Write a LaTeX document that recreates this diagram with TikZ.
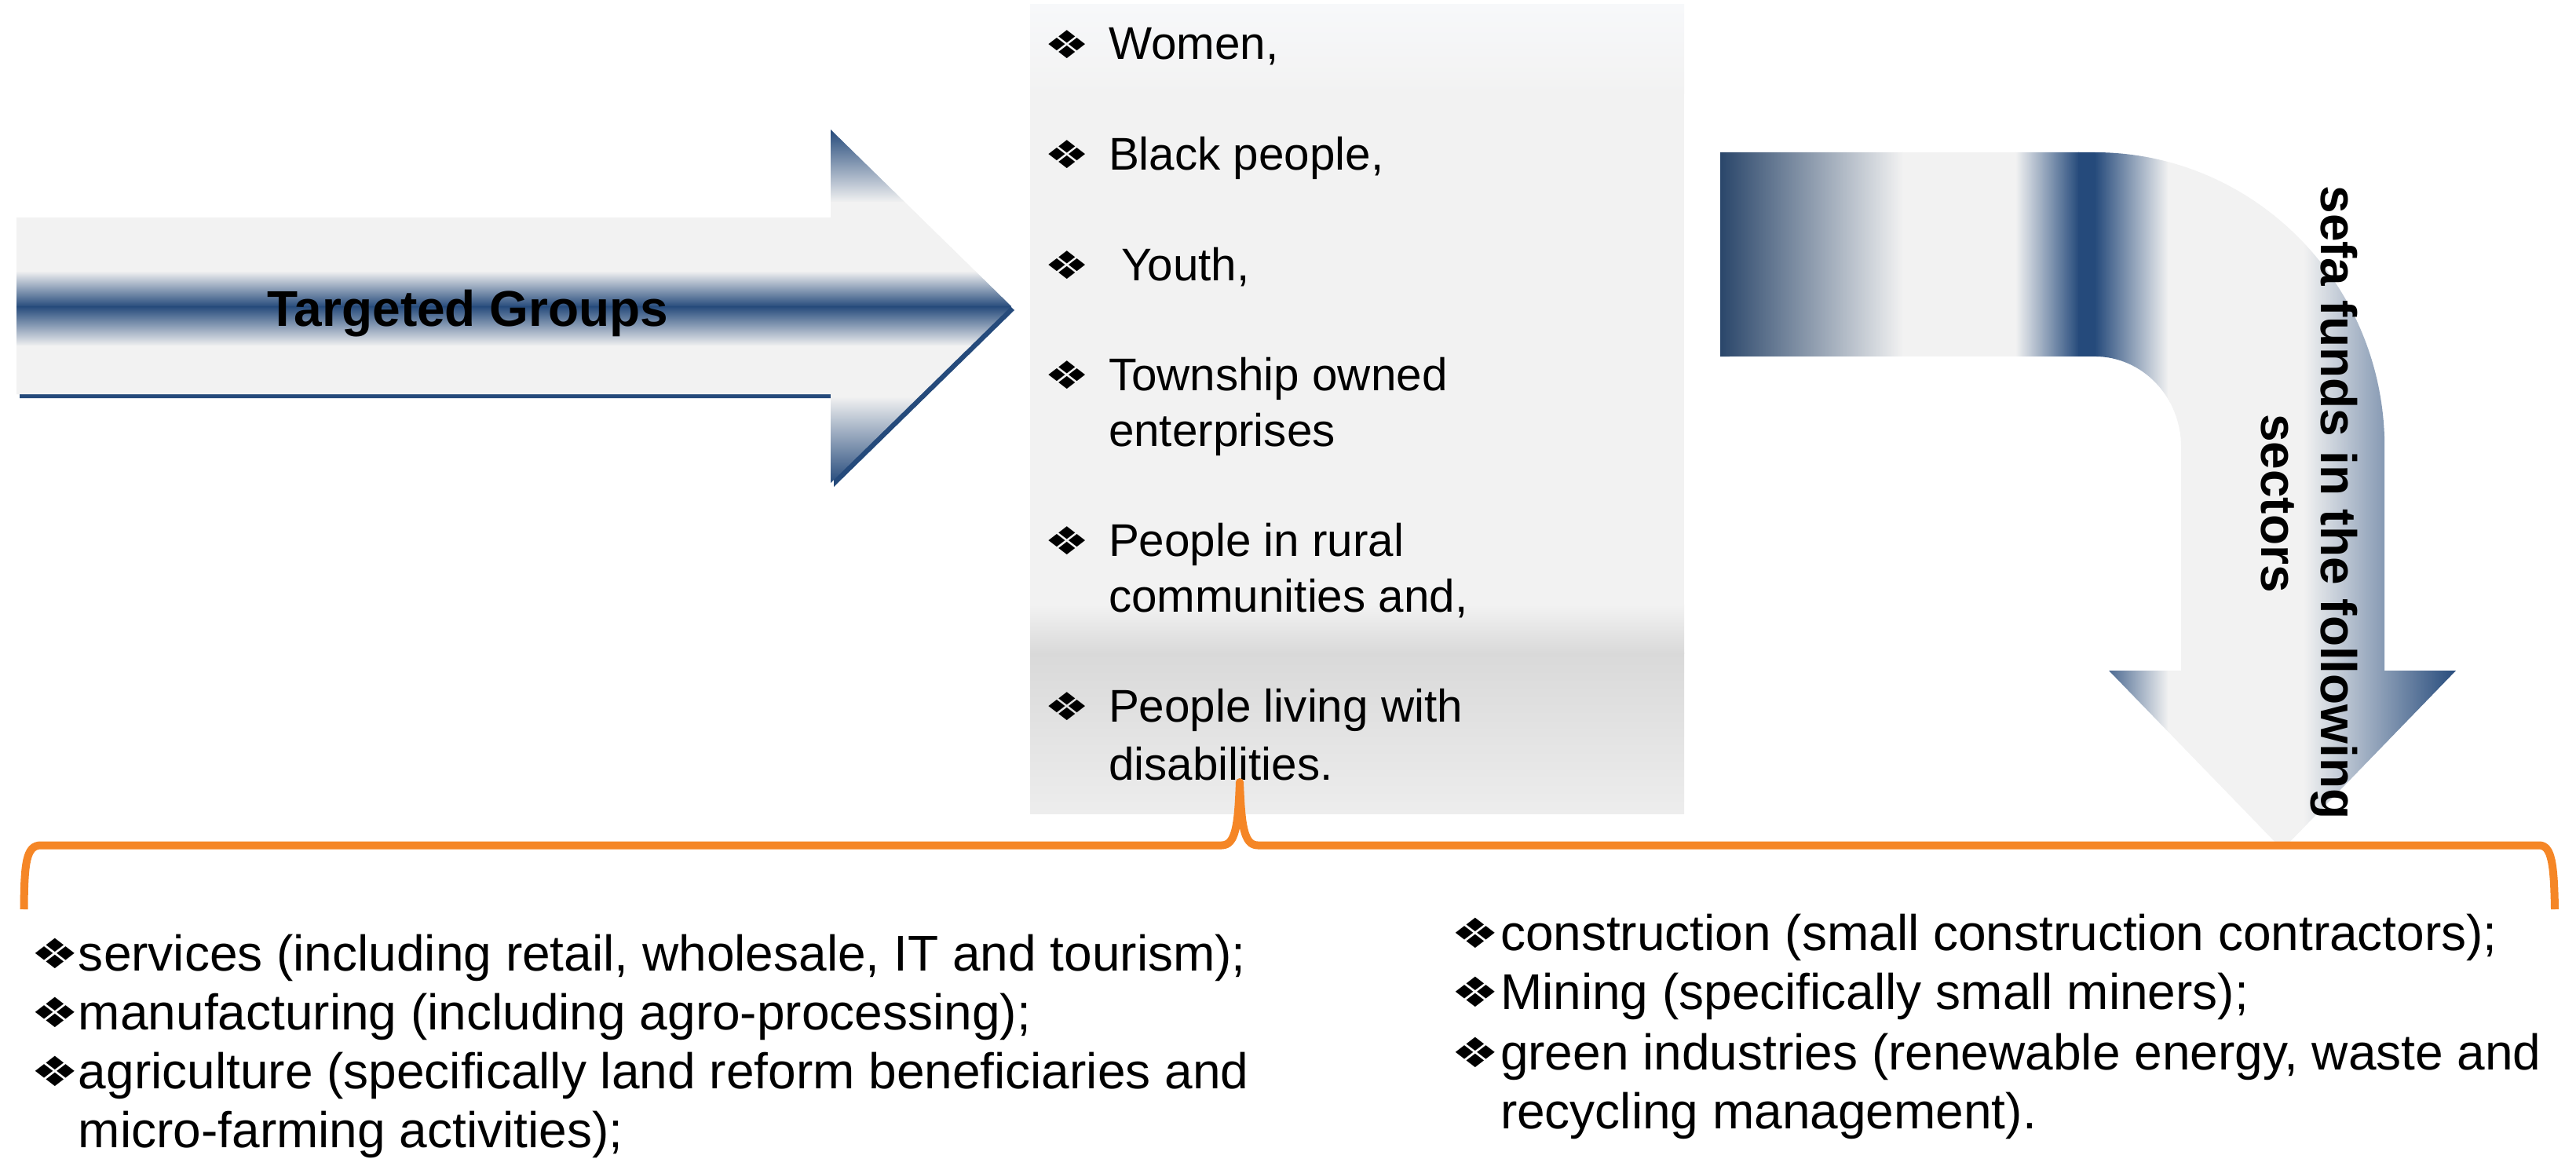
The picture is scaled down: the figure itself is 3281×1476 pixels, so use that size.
\documentclass[tikz,border=0pt]{standalone}
\usepackage{fontspec}
\usepackage{graphicx}
\setmainfont{Liberation Sans}
\newfontfamily\dingfont{DejaVu Sans}
\usetikzlibrary{calc}

\definecolor{sefablue}{RGB}{37,74,123}
\definecolor{sefadark}{RGB}{42,70,106}
\definecolor{panel}{RGB}{242,242,242}
\definecolor{paneltop}{RGB}{247,248,250}
\definecolor{panelband}{RGB}{217,217,217}
\definecolor{panellow}{RGB}{237,237,237}
\definecolor{bracecol}{RGB}{245,134,38}

\tikzset{
  sector/.style={inner sep=0pt, outer sep=0pt, anchor=base west,
    font=\fontsize{18.2pt}{21pt}\selectfont},
  group/.style={inner sep=0pt, outer sep=0pt, anchor=base west,
    font=\fontsize{16.6pt}{20pt}\selectfont},
  bul/.style={inner sep=0pt, outer sep=0pt, anchor=center,
    font=\dingfont\fontsize{14pt}{14pt}\selectfont},
  bigbul/.style={bul, font=\dingfont\fontsize{15pt}{15pt}\selectfont},
  headline/.style={inner sep=0pt, outer sep=0pt, anchor=base,
    font=\bfseries\fontsize{18.2pt}{21pt}\selectfont},
}
\newcommand{\dia}{\scalebox{1.3}[1]{❖}}

\begin{document}
\begin{tikzpicture}[x=0.01cm, y=0.01cm]
\useasboundingbox (0,0) rectangle (3281,-1476);

% ---------- left arrow: shadow ----------
\fill[sefablue] (25,-282) -- (1062,-282) -- (1062,-170) -- (1292,-395)
  -- (1062,-620) -- (1062,-507) -- (25,-507) -- cycle;

% ---------- left arrow: banded fill ----------
\begin{scope}
  \clip (21,-277) -- (1058,-277) -- (1058,-165) -- (1288,-390)
    -- (1058,-615) -- (1058,-502) -- (21,-502) -- cycle;
  \shade[top color=sefablue, bottom color=panel] (0,-165) rectangle (1300,-258);
  \fill[panel] (0,-257) rectangle (1300,-346);
  \shade[top color=panel, bottom color=sefablue] (0,-345) rectangle (1300,-391);
  \shade[top color=sefablue, bottom color=panel] (0,-390) rectangle (1300,-441);
  \fill[panel] (0,-440) rectangle (1300,-506);
  \shade[top color=panel, bottom color=sefablue] (0,-505) rectangle (1300,-616);
\end{scope}
\node[headline] (targeted) at (596,-415) {Targeted Groups};

% ---------- central panel ----------
\fill[panel] (1312,-6) rectangle (2145,-1036);
\shade[top color=paneltop, bottom color=panel] (1312,-6) rectangle (2145,-120);
\shade[top color=panel, bottom color=panelband] (1312,-770) rectangle (2145,-832);
\shade[top color=panelband, bottom color=panellow] (1312,-831) rectangle (2145,-1036);

\node[bul] (b1) at (1359,-57) {\dia};
\node[group] (g1) at (1412,-76) {Women,};
\node[bul] (b2) at (1359,-197) {\dia};
\node[group] (g2) at (1412,-216) {Black people,};
\node[bul] (b3) at (1359,-338) {\dia};
\node[group] (g3) at (1428,-357) {Youth,};
\node[bul] (b4) at (1359,-478) {\dia};
\node[group] (g4) at (1412,-497) {Township owned};
\node[group] (g4b) at (1412,-568) {enterprises};
\node[bul] (b5) at (1359,-689) {\dia};
\node[group] (g5) at (1412,-708) {People in rural};
\node[group] (g5b) at (1412,-779) {communities and,};
\node[bul] (b6) at (1359,-900) {\dia};
\node[group] (g6) at (1412,-919) {People living with};
\node[group] (g6b) at (1412,-993) {disabilities.};

% ---------- bent arrow ----------
\begin{scope}
  \clip (2191,-194) -- (2668,-194)
    arc[start angle=90, end angle=0, x radius=3.69cm, y radius=3.75cm]
    -- (3037,-854) -- (3128,-854) -- (2907,-1082) -- (2686,-854) -- (2778,-854)
    -- (2778,-569)
    arc[start angle=0, end angle=90, x radius=1.10cm, y radius=1.15cm]
    -- (2191,-454) -- cycle;
  \shade[left color=sefadark, right color=panel] (2191,-180) rectangle (2424,-1100);
  \fill[panel] (2423,-180) rectangle (2568,-1100);
  \shade[left color=panel, right color=sefablue] (2567,-180) rectangle (2648,-1100);
  \fill[sefablue] (2647,-180) rectangle (2669,-1100);
  \shade[left color=sefablue, right color=panel] (2668,-180) rectangle (2762,-1100);
  \fill[panel] (2761,-180) rectangle (2935,-1100);
  \shade[left color=panel, right color=sefablue] (2934,-180) rectangle (3130,-1100);
\end{scope}
\node[headline, rotate=-90] (funds1) at (2956,-640) {sefa funds in the following};
\node[headline, rotate=-90] (funds2) at (2880,-641) {sectors};

% ---------- brace ----------
\draw[bracecol, line width=0.1cm, line join=round]
  (30.5,-1158) .. controls (31,-1100) and (33,-1076.5) .. (52,-1076.5)
  -- (1556,-1076.5) .. controls (1574,-1076.5) and (1577,-1050) .. (1579,-996)
  .. controls (1581,-1050) and (1584,-1076.5) .. (1602,-1076.5)
  -- (3234,-1076.5) .. controls (3250,-1076.5) and (3253,-1100) .. (3254,-1158);

% ---------- sectors ----------
\node[bigbul] (s1b) at (70,-1214) {\dia};
\node[sector] (s1) at (100,-1236) {services (including retail, wholesale, IT and tourism);};
\node[bigbul] (s2b) at (70,-1289) {\dia};
\node[sector] (s2) at (100,-1311) {manufacturing (including agro-processing);};
\node[bigbul] (s3b) at (70,-1364) {\dia};
\node[sector] (s3) at (100,-1386) {agriculture (specifically land reform beneficiaries and};
\node[sector] (s3c) at (100,-1461) {micro-farming activities);};

\node[bigbul] (s4b) at (1879,-1188) {\dia};
\node[sector] (s4) at (1911,-1210) {construction (small construction contractors);};
\node[bigbul] (s5b) at (1879,-1263) {\dia};
\node[sector] (s5) at (1911,-1285) {Mining (specifically small miners);};
\node[bigbul] (s6b) at (1879,-1340) {\dia};
\node[sector] (s6) at (1911,-1362) {green industries (renewable energy, waste and};
\node[sector] (s6c) at (1911,-1437) {recycling management).};
\end{tikzpicture}
\end{document}
